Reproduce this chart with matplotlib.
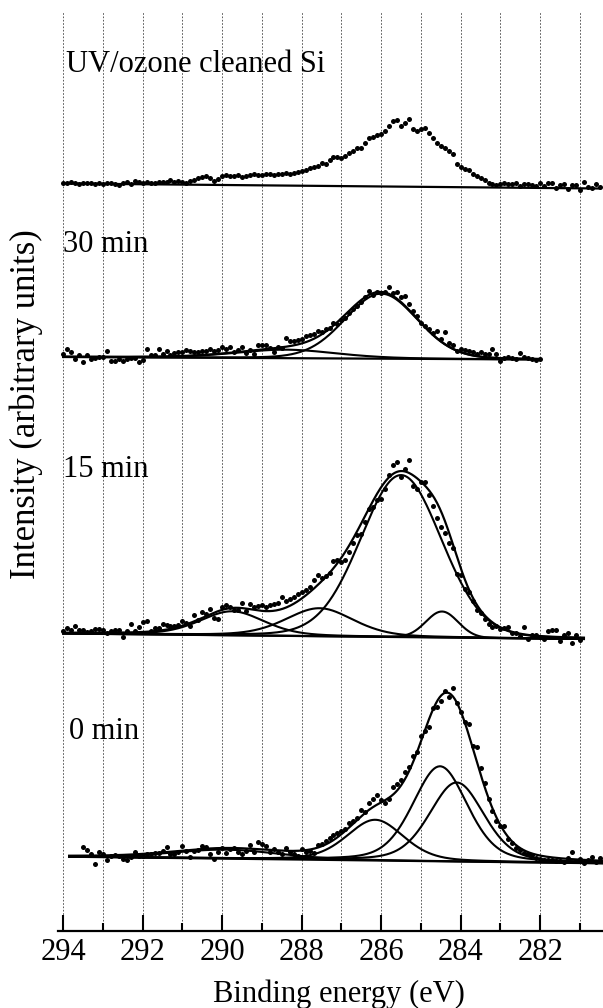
import numpy as np
import matplotlib as mpl
mpl.use('Agg') #no display
import matplotlib.pyplot as plt
from matplotlib.ticker import MultipleLocator

plt.rcParams['font.family'] = ['Liberation Serif', 'DejaVu Serif']

stepEV = 0.1 #spacing of the measured points (eV)

#counts are heights above the linear background (arbitrary units)

#UV/ozone cleaned Si: data only, no fit
uvLabel = 'UV/ozone cleaned Si'
uvStart = 294.0
uvCounts = [0.5, 1.0, 1.5, 0.5, 0.0, 0.5, 1.0, 0.5, 0.0, 1.0,
	0.0, 0.5, 0.5, 0.0, -1.0, 1.0, 2.0, 0.5, 3.0, 2.0,
	1.0, 2.0, 1.0, 1.5, 2.0, 2.0, 2.0, 4.5, 2.5, 3.5,
	2.5, 1.5, 3.5, 4.5, 6.5, 7.5, 8.5, 7.0, 4.0, 6.0,
	8.5, 10.0, 9.5, 9.0, 10.0, 8.5, 9.0, 10.5, 11.0, 10.0,
	10.5, 11.5, 11.0, 10.5, 12.0, 11.5, 12.5, 12.0, 13.0, 13.5,
	15.0, 16.0, 17.7, 19.0, 20.0, 23.3, 22.0, 26.0, 28.7, 28.7,
	27.7, 30.0, 32.7, 35.3, 38.3, 38.3, 43.3, 48.3, 49.3, 51.0,
	52.0, 56.0, 61.0, 65.3, 67.0, 61.0, 63.7, 67.7, 57.7, 56.0,
	57.7, 58.7, 54.3, 49.3, 44.3, 41.0, 39.3, 36.0, 33.3, 22.7,
	20.0, 18.7, 17.0, 13.7, 11.0, 9.0, 7.0, 4.3, 3.5, 3.0,
	3.5, 5.0, 3.5, 3.5, 5.0, 1.7, 3.5, 3.5, 2.8, 2.4,
	5.0, 1.7, 5.0, 5.0, 0.0, 3.5, 4.0, -0.7, 3.5, 3.5,
	-1.4, 6.0, 1.7, 0.7, 4.5, 2.0]
uvLineRange = [294.0, 280.5]
uvBackground = [747.5, 742.5]
uvCenters = []
uvHeights = []
uvFwhm = []
uvLorentz = []

#30 min
min30Label = '30 min'
min30Start = 294.0
min30Counts = [3.5, 8.0, 5.0, -2.0, 1.7, -4.5, 1.7, -1.7, -0.7, 0.5,
	0.0, 6.0, -3.5, -4.0, -1.7, -3.5, -1.7, -0.7, -0.7, -4.5,
	-3.0, 8.5, 2.0, 2.0, 8.5, 3.8, 6.6, 3.0, 4.5, 5.5,
	5.5, 7.5, 6.6, 5.5, 5.5, 6.6, 6.6, 8.5, 6.6, 7.5,
	11.0, 9.3, 10.5, 5.9, 8.3, 10.5, 4.8, 7.6, 4.2, 13.0,
	13.5, 13.5, 9.7, 6.2, 10.7, 9.7, 20.0, 17.5, 17.5, 18.0,
	19.0, 22.0, 23.0, 24.0, 27.0, 26.0, 29.0, 30.5, 35.0, 34.0,
	38.0, 40.9, 46.0, 49.5, 53.0, 56.5, 62.0, 67.9, 63.4, 66.8,
	66.0, 67.0, 71.7, 65.4, 66.5, 62.0, 63.0, 55.0, 48.0, 43.0,
	36.0, 33.0, 30.0, 26.0, 27.7, 20.0, 27.0, 16.0, 14.0, 8.0,
	10.4, 9.0, 8.3, 7.3, 4.8, 7.3, 4.8, 5.5, 10.7, 4.8,
	-1.4, 1.7, 2.4, 1.7, 0.7, 6.6, 2.4, 1.7, 0.7, -1.0, 0.5]
min30LineRange = [294.0, 282.0]
min30Background = [574.0, 571.5]
min30Centers = [286.0, 288.4]
min30Heights = [65.0, 8.5]
min30Fwhm = [2.15, 3.0]
min30Lorentz = [0.1, 0.3]

#15 min
min15Label = '15 min'
min15Start = 294.0
min15Counts = [2.3, 5.7, 3.3, 8.0, 3.3, 3.3, 1.7, 2.3, 5.0, 5.0,
	4.0, 1.3, 3.0, 4.0, 4.0, -3.3, 3.3, 10.0, 3.3, 7.3,
	12.0, 13.0, 3.3, 6.3, 6.3, 10.7, 9.7, 9.0, 9.0, 9.7,
	14.0, 12.3, 9.0, 20.0, 14.7, 23.3, 21.3, 25.7, 16.7, 15.7,
	28.0, 30.7, 28.0, 25.7, 25.7, 32.3, 24.0, 31.3, 29.0, 30.0,
	30.7, 29.0, 31.0, 31.3, 33.0, 39.0, 34.7, 36.7, 39.0, 42.0,
	44.0, 45.7, 49.0, 55.7, 60.7, 58.0, 60.0, 63.0, 75.0, 76.0,
	74.0, 76.0, 85.0, 94.0, 101.7, 103.0, 115.0, 127.7, 130.0, 136.7,
	138.0, 148.0, 161.7, 171.7, 175.0, 160.0, 168.0, 176.7, 151.0, 148.0,
	155.0, 155.0, 142.0, 131.7, 119.0, 110.0, 105.0, 94.7, 89.3, 64.0,
	63.0, 48.7, 45.3, 37.0, 28.0, 25.3, 18.7, 13.7, 11.3, 12.0,
	8.7, 10.3, 11.3, 5.3, 5.3, 2.0, 11.3, -0.7, 3.7, 3.7,
	2.0, 0.0, 7.7, 8.3, 8.3, -2.7, 4.0, 6.3, -4.3, 4.3,
	-1.0]
min15LineRange = [294.0, 280.9]
min15Background = [297.5, 292.0]
min15Centers = [285.5, 284.47, 287.55, 289.75]
min15Heights = [162.0, 26.0, 28.0, 24.0]
min15Fwhm = [2.4, 0.95, 2.0, 1.9]
min15Lorentz = [0.1, 0.0, 0.3, 0.3]

#0 min
min0Label = '0 min'
min0Start = 293.5
min0Counts = [10.0, 6.7, 2.7, -7.3, 5.0,
	3.3, -3.3, 1.7, 2.7, 1.0, -1.7, -2.7, 0.0, 5.7, 2.0,
	2.0, 4.0, 3.5, 5.0, 5.0, 6.7, 10.7, 3.5, 4.5, 6.0,
	11.7, 7.3, 0.7, 7.3, 8.3, 12.3, 11.7, 4.0, -0.7, 7.0,
	10.3, 5.3, 9.7, 10.3, 7.0, 5.3, 8.0, 13.7, 7.0, 16.7,
	14.7, 13.0, 7.0, 10.3, 7.0, 5.3, 11.7, 7.0, 5.3, 3.7,
	10.3, 7.7, 8.7, 7.0, 14.7, 15.7, 19.0, 22.0, 25.0, 27.0,
	28.7, 31.0, 37.0, 39.7, 42.0, 50.0, 48.3, 57.0, 61.0, 65.3,
	61.0, 57.7, 62.0, 73.7, 77.0, 80.3, 88.7, 93.7, 105.3, 108.7,
	125.3, 130.3, 133.7, 153.0, 154.3, 160.0, 170.7, 164.0, 173.3, 158.0,
	149.3, 139.3, 137.7, 116.0, 114.3, 93.3, 79.3, 62.7, 51.0, 41.0,
	36.0, 36.0, 22.7, 19.3, 14.3, 12.7, 9.3, 8.7, 7.7, 4.3,
	4.0, 2.7, 3.0, 3.0, 1.3, 2.0, 1.0, 5.0, 11.0, 2.0,
	4.3, 0.3, 3.0, 6.3, 1.7, 5.0]
min0LineRange = [293.85, 280.4]
min0Background = [74.3, 67.7]
min0Centers = [284.52, 284.1, 286.15, 289.9]
min0Heights = [95.0, 79.0, 40.7, 9.0]
min0Fwhm = [1.62, 1.62, 1.68, 3.2]
min0Lorentz = [0.3, 0.3, 0.3, 0.3]

def background(e, lineRange, levels):
	return np.interp(e, lineRange[::-1], levels[::-1])

def pseudoVoigt(e, center, height, fwhm, eta):
	d = (e - center) / (fwhm / 2.0)
	gauss = np.exp(-np.log(2) * d**2)
	lorentz = 1.0 / (1.0 + d**2)
	return height * ((1 - eta) * gauss + eta * lorentz)

def drawSpectrum(ax, start, counts, lineRange, levels, centers, heights, fwhm, lorentz):
	energy = start - stepEV * np.arange(len(counts))
	points = background(energy, lineRange, levels) + np.array(counts)

	grid = np.linspace(lineRange[0], lineRange[1], 600)
	base = background(grid, lineRange, levels)
	ax.plot(grid, base, color='black', lw=1.6, zorder=2)

	if len(centers) > 0:
		total = np.zeros_like(grid)
		for c, h, w, eta in zip(centers, heights, fwhm, lorentz):
			comp = pseudoVoigt(grid, c, h, w, eta)
			total += comp
			ax.plot(grid, base + comp, color='black', lw=1.5, zorder=2)
		ax.plot(grid, base + total, color='black', lw=1.6, zorder=2)

	ax.plot(energy, points, 'o', color='black', ms=3.6, mew=0, zorder=3)

fig = plt.figure(figsize=(6.03, 10.08), dpi=100)
ax = fig.add_axes([58/603, 77/1008, 545/603, 919/1008])

spectra = [
	(uvStart, uvCounts, uvLineRange, uvBackground, uvCenters, uvHeights, uvFwhm, uvLorentz),
	(min30Start, min30Counts, min30LineRange, min30Background, min30Centers, min30Heights, min30Fwhm, min30Lorentz),
	(min15Start, min15Counts, min15LineRange, min15Background, min15Centers, min15Heights, min15Fwhm, min15Lorentz),
	(min0Start, min0Counts, min0LineRange, min0Background, min0Centers, min0Heights, min0Fwhm, min0Lorentz),
]
for spec in spectra:
	drawSpectrum(ax, *spec)

#label positions (eV, height)
ax.text(293.94, 859, uvLabel, fontsize=22, va='baseline')
ax.text(294.0, 679, min30Label, fontsize=22, va='baseline')
ax.text(294.0, 454, min15Label, fontsize=22, va='baseline')
ax.text(293.86, 192, min0Label, fontsize=22, va='baseline')

ax.set_xlim(294.13, 280.42)
ax.set_ylim(0, 919)
ax.set_yticks([])
for side in ['left', 'top', 'right']:
	ax.spines[side].set_visible(False)
ax.spines['bottom'].set_linewidth(1.6)

ax.xaxis.set_major_locator(MultipleLocator(2))
ax.xaxis.set_minor_locator(MultipleLocator(1))
ax.tick_params(axis='x', which='major', direction='in', length=11.5, width=1.5, labelsize=22, pad=5)
ax.tick_params(axis='x', which='minor', direction='in', length=6, width=1.5)
ax.grid(True, which='both', axis='x', color='0.25', linestyle=(0, (2, 2)), linewidth=0.6)
ax.set_axisbelow(True)

fig.text(339/603, 1 - 1002/1008, 'Binding energy (eV)', fontsize=22, ha='center', va='baseline')
fig.text(26/603, 1 - 404/1008, 'Intensity (arbitrary units)', fontsize=25, rotation=90, ha='center', va='center')

fig.savefig('out.png', dpi=100)
